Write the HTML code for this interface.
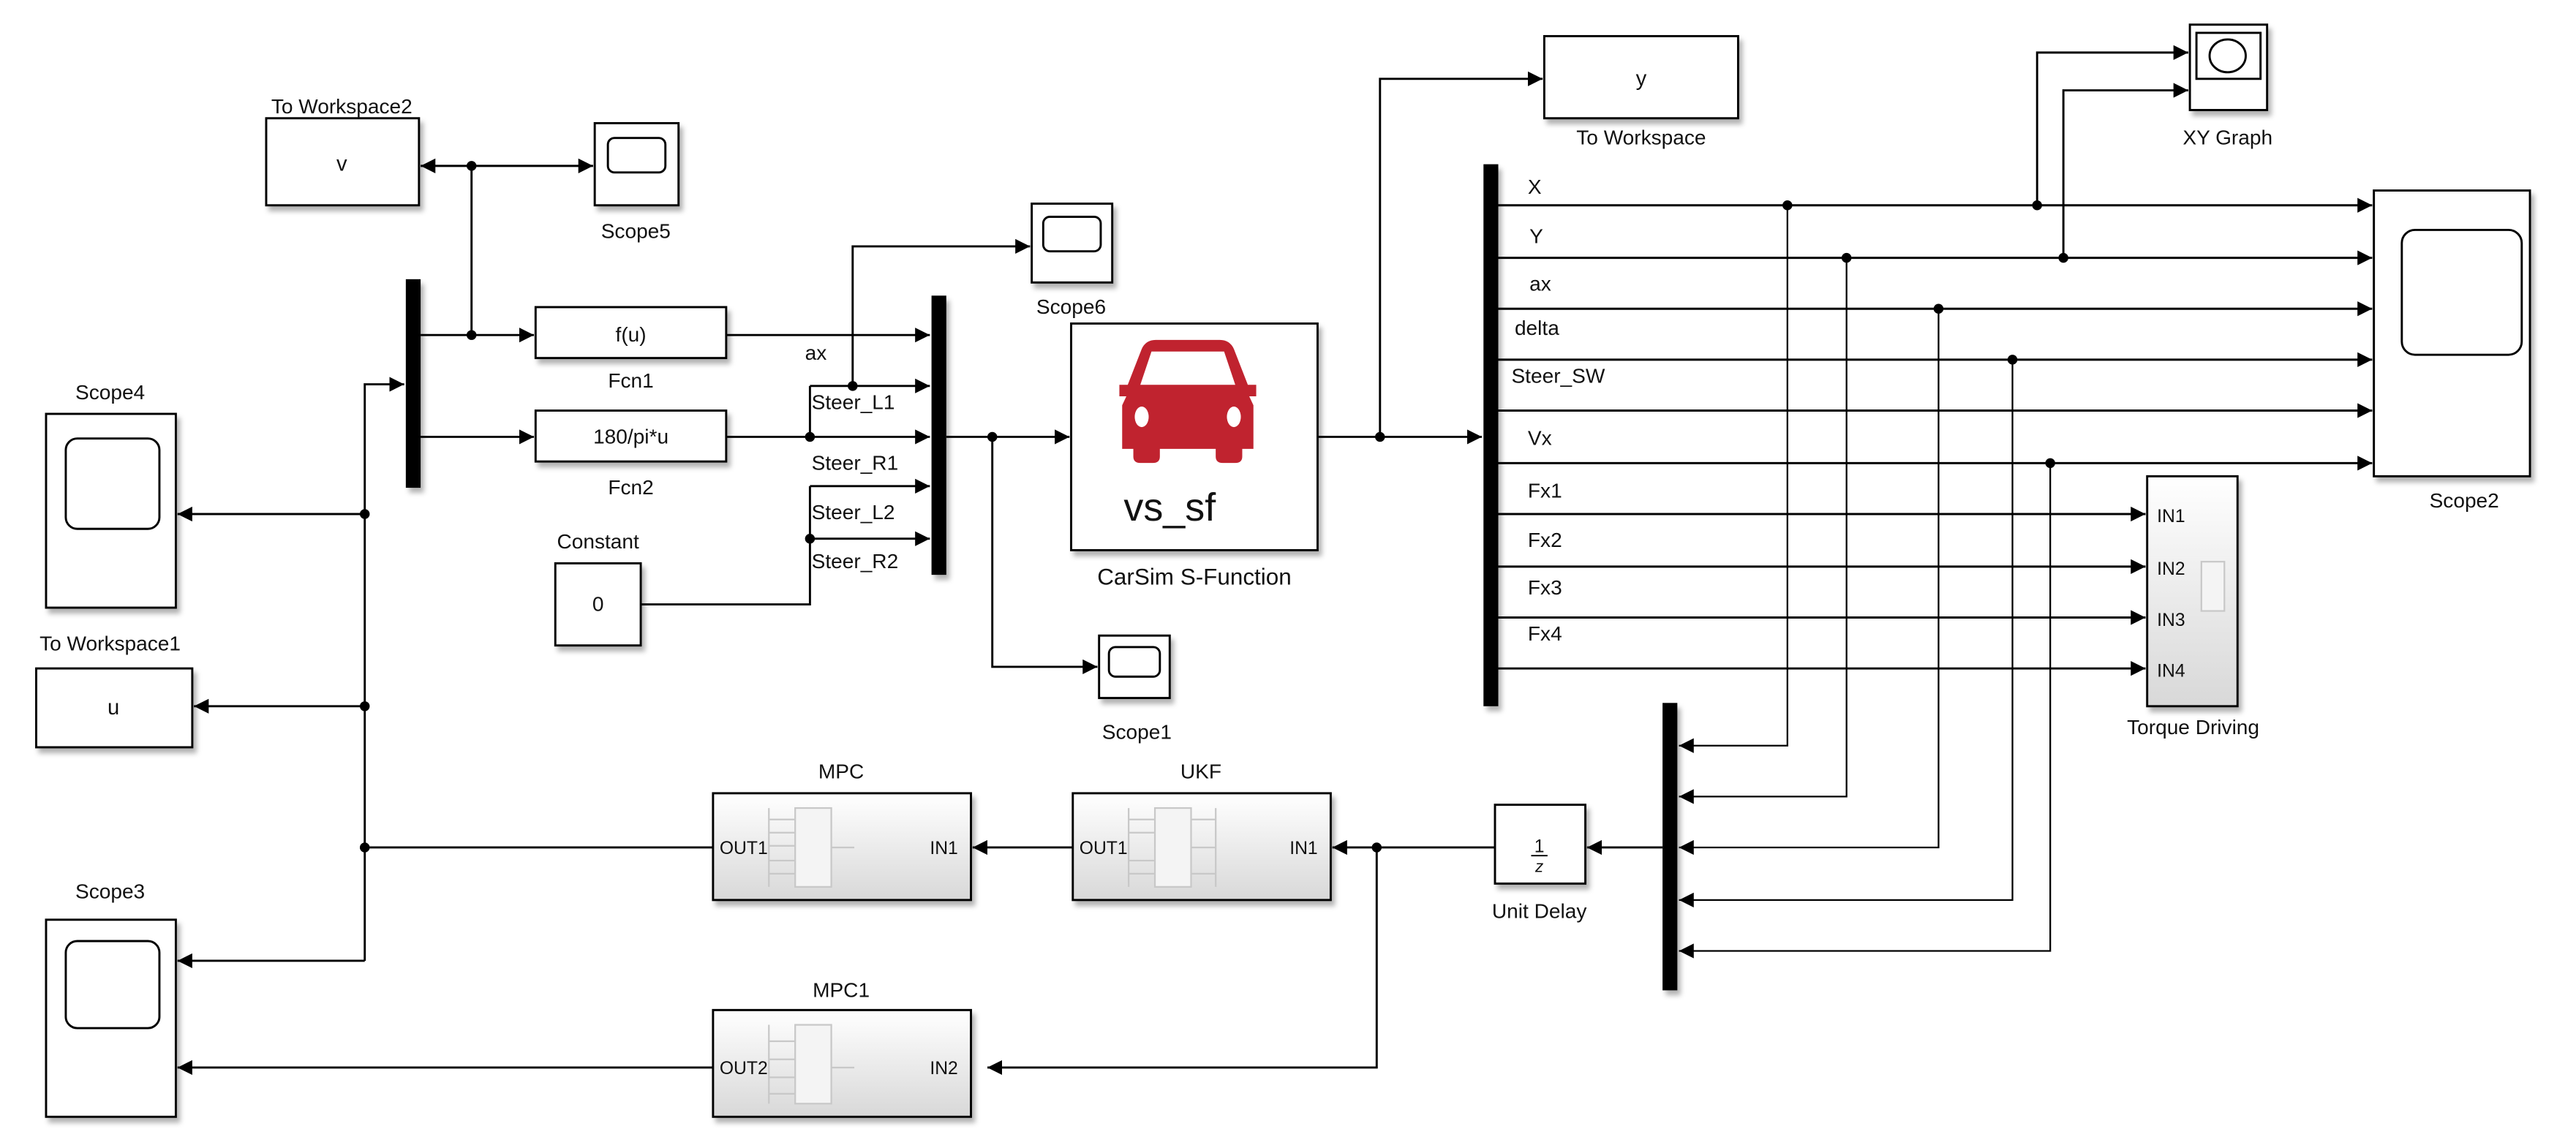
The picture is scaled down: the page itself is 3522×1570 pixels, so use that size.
<!DOCTYPE html>
<html><head><meta charset="utf-8"><style>
html,body{margin:0;padding:0;background:#fff;}
svg{display:block;}
text{font-family:"Liberation Sans",Arial,sans-serif;fill:#111;}
</style></head><body>
<svg width="3522" height="1570" viewBox="0 0 1568 699" xmlns="http://www.w3.org/2000/svg">
<defs>
<marker id="a" viewBox="0 0 10 10" refX="10" refY="5" markerWidth="9" markerHeight="9" markerUnits="userSpaceOnUse" orient="auto"><path d="M0,0L10,5L0,10z" fill="#000"/></marker>
<linearGradient id="g" x1="0" y1="0" x2="0" y2="1"><stop offset="0" stop-color="#ffffff"/><stop offset="1" stop-color="#d8d8d8"/></linearGradient>
<filter id="sh" x="-10%" y="-10%" width="130%" height="130%"><feDropShadow dx="2" dy="3" stdDeviation="1.5" flood-color="#000" flood-opacity="0.3"/></filter>
</defs>
<g fill="none" stroke="#000" stroke-width="1.3">
<path d="M287 101H256" marker-end="url(#a)"/>
<path d="M287 101H361" marker-end="url(#a)"/>
<path d="M287 101V204"/>
<path d="M256 204H325" marker-end="url(#a)"/>
<path d="M256 266H325" marker-end="url(#a)"/>
<path d="M222 585V234H246" marker-end="url(#a)"/>
<path d="M442 204H566" marker-end="url(#a)"/>
<path d="M519 235V150H627" marker-end="url(#a)"/>
<path d="M493 235H566" marker-end="url(#a)"/>
<path d="M442 266H566" marker-end="url(#a)"/>
<path d="M493 266V235"/>
<path d="M493 296H566" marker-end="url(#a)"/>
<path d="M493 328H566" marker-end="url(#a)"/>
<path d="M390 368H493V296"/>
<path d="M576 266H651" marker-end="url(#a)"/>
<path d="M604 266V406H668" marker-end="url(#a)"/>
<path d="M802 266H902" marker-end="url(#a)"/>
<path d="M840 266V48H939" marker-end="url(#a)"/>
<path d="M912 125H1444" marker-end="url(#a)"/>
<path d="M912 157H1444" marker-end="url(#a)"/>
<path d="M912 188H1444" marker-end="url(#a)"/>
<path d="M912 219H1444" marker-end="url(#a)"/>
<path d="M912 250H1444" marker-end="url(#a)"/>
<path d="M912 282H1444" marker-end="url(#a)"/>
<path d="M912 313H1306" marker-end="url(#a)"/>
<path d="M912 345H1306" marker-end="url(#a)"/>
<path d="M912 376H1306" marker-end="url(#a)"/>
<path d="M912 407H1306" marker-end="url(#a)"/>
<path d="M1240 125V32H1332" marker-end="url(#a)"/>
<path d="M1256 157V55H1332" marker-end="url(#a)"/>
<path d="M1088 125V454H1022" marker-end="url(#a)" stroke-width="1"/>
<path d="M1124 157V485H1022" marker-end="url(#a)" stroke-width="1"/>
<path d="M1180 188V516H1022" marker-end="url(#a)" stroke-width="1"/>
<path d="M1225 219V548H1022" marker-end="url(#a)" stroke-width="1"/>
<path d="M1248 282V579H1022" marker-end="url(#a)" stroke-width="1"/>
<path d="M1012 516H966" marker-end="url(#a)"/>
<path d="M910 516H811" marker-end="url(#a)"/>
<path d="M838 516V650H601" marker-end="url(#a)"/>
<path d="M653 516H592" marker-end="url(#a)"/>
<path d="M434 516H222"/>
<path d="M434 650H108" marker-end="url(#a)"/>
<path d="M222 313H108" marker-end="url(#a)"/>
<path d="M222 430H118" marker-end="url(#a)"/>
<path d="M222 585H108" marker-end="url(#a)"/>
</g>
<g fill="#000">
<circle cx="287" cy="101" r="3"/><circle cx="287" cy="204" r="3"/>
<circle cx="519" cy="235" r="3"/><circle cx="493" cy="266" r="3"/><circle cx="493" cy="328" r="3"/>
<circle cx="604" cy="266" r="3"/><circle cx="840" cy="266" r="3"/>
<circle cx="1088" cy="125" r="3"/><circle cx="1240" cy="125" r="3"/>
<circle cx="1124" cy="157" r="3"/><circle cx="1256" cy="157" r="3"/>
<circle cx="1180" cy="188" r="3"/><circle cx="1225" cy="219" r="3"/><circle cx="1248" cy="282" r="3"/>
<circle cx="838" cy="516" r="3"/>
<circle cx="222" cy="313" r="3"/><circle cx="222" cy="430" r="3"/><circle cx="222" cy="516" r="3"/>
</g>
<g fill="#000" filter="url(#sh)">
<rect x="247" y="170" width="9" height="127"/>
<rect x="567" y="180" width="9" height="170"/>
<rect x="903" y="100" width="9" height="330"/>
<rect x="1012" y="428" width="9" height="175"/>
</g>
<g fill="#fff" stroke="#000" stroke-width="1.3" filter="url(#sh)">
<rect x="162" y="72" width="93" height="53"/>
<rect x="362" y="75" width="51" height="50"/>
<rect x="326" y="187" width="116" height="31"/>
<rect x="326" y="250" width="116" height="31"/>
<rect x="338" y="343" width="52" height="50"/>
<rect x="628" y="124" width="49" height="48"/>
<rect x="669" y="387" width="43" height="38"/>
<rect x="652" y="197" width="150" height="138"/>
<rect x="940" y="22" width="118" height="50"/>
<rect x="1333" y="15" width="47" height="52"/>
<rect x="1445" y="116" width="95" height="174"/>
<rect x="910" y="490" width="55" height="48"/>
<rect x="28" y="252" width="79" height="118"/>
<rect x="22" y="407" width="95" height="48"/>
<rect x="28" y="560" width="79" height="120"/>
</g>
<g fill="url(#g)" stroke="#000" stroke-width="1.3" filter="url(#sh)">
<rect x="1307" y="290" width="55" height="140"/>
<rect x="434" y="483" width="157" height="65"/>
<rect x="653" y="483" width="157" height="65"/>
<rect x="434" y="615" width="157" height="65"/>
</g>
<g fill="#fff" stroke="#000" stroke-width="1.3">
<rect x="370" y="84" width="35" height="21" rx="4"/>
<rect x="635" y="132" width="35" height="21" rx="4"/>
<rect x="675" y="394" width="31" height="18" rx="4"/>
<rect x="40" y="267" width="57" height="55" rx="7"/>
<rect x="40" y="573" width="57" height="53" rx="7"/>
<rect x="1462" y="140" width="73" height="76" rx="8"/>
<rect x="1337" y="20" width="39" height="28"/>
<ellipse cx="1356" cy="34" rx="11" ry="10"/>
</g>
<g fill="none" stroke="#c8c8c8" stroke-width="1">
<rect x="484" y="492" width="22" height="48" fill="#f4f4f4"/><path d="M468 492V540M468 499H484M468 507H484M468 515H484M468 524H484M468 532H484M506 516H520"/>
<rect x="703" y="492" width="22" height="48" fill="#f4f4f4"/><path d="M687 492V540M687 499H703M687 507H703M687 524H703M687 532H703M725 499H740M725 516H740M725 532H740M740 492V540"/>
<rect x="484" y="624" width="22" height="48" fill="#f4f4f4"/><path d="M468 624V672M468 634H484M468 645H484M468 656H484M468 666H484M506 650H520"/>
<rect x="1340" y="342" width="14" height="30" fill="#f4f4f4"/>
</g>
<g transform="translate(723,207) scale(0.85,0.78) translate(-723,-205)">
<path fill="#c0232f" d="M690 212 Q693 205 700 205 H746 Q753 205 756 212 L766 240 H772 V249 H767 L770 256 V290 H762 V296 Q762 301 757 301 H748 Q743 301 743 296 V290 H703 V296 Q703 301 698 301 H689 Q684 301 684 296 V290 H676 V256 L679 249 H674 V240 H680 Z"/>
<path fill="#fff" d="M697 214 H749 L757 240 H689 Z"/>
<ellipse fill="#fff" cx="690" cy="265" rx="5" ry="8"/><ellipse fill="#fff" cx="756" cy="265" rx="5" ry="8"/>
</g>
<text x="712" y="317" font-size="24" text-anchor="middle" fill="#000">vs_sf</text>
<g font-size="12.5" text-anchor="middle">
<text x="208" y="69">To Workspace2</text>
<text x="208" y="104" font-size="13">v</text>
<text x="387" y="145">Scope5</text>
<text x="384" y="208">f(u)</text>
<text x="384" y="236">Fcn1</text>
<text x="384" y="270">180/pi*u</text>
<text x="384" y="301">Fcn2</text>
<text x="364" y="334">Constant</text>
<text x="364" y="372">0</text>
<text x="652" y="191">Scope6</text>
<text x="692" y="450">Scope1</text>
<text x="727" y="356" font-size="14">CarSim S-Function</text>
<text x="999" y="52" font-size="13">y</text>
<text x="999" y="88">To Workspace</text>
<text x="1356" y="88">XY Graph</text>
<text x="1500" y="309">Scope2</text>
<text x="1335" y="447">Torque Driving</text>
<text x="937" y="519" font-size="11">1</text>
<path d="M932 521H942" stroke="#000" stroke-width="0.8"/>
<text x="937" y="531" font-size="10" font-style="italic">z</text>
<text x="937" y="559">Unit Delay</text>
<text x="512" y="474">MPC</text>
<text x="731" y="474">UKF</text>
<text x="512" y="607">MPC1</text>
<text x="67" y="243">Scope4</text>
<text x="67" y="396">To Workspace1</text>
<text x="69" y="435" font-size="13">u</text>
<text x="67" y="547">Scope3</text>
</g>
<g font-size="12.5">
<text x="490" y="219">ax</text>
<text x="494" y="249">Steer_L1</text>
<text x="494" y="286">Steer_R1</text>
<text x="494" y="316">Steer_L2</text>
<text x="494" y="346">Steer_R2</text>
<text x="930" y="118">X</text>
<text x="931" y="148">Y</text>
<text x="931" y="177">ax</text>
<text x="922" y="204">delta</text>
<text x="920" y="233">Steer_SW</text>
<text x="930" y="271">Vx</text>
<text x="930" y="303">Fx1</text>
<text x="930" y="333">Fx2</text>
<text x="930" y="362">Fx3</text>
<text x="930" y="390">Fx4</text>
</g>
<g font-size="11">
<text x="1313" y="318">IN1</text><text x="1313" y="350">IN2</text><text x="1313" y="381">IN3</text><text x="1313" y="412">IN4</text>
<text x="438" y="520">OUT1</text><text x="566" y="520">IN1</text>
<text x="657" y="520">OUT1</text><text x="785" y="520">IN1</text>
<text x="438" y="654">OUT2</text><text x="566" y="654">IN2</text>
</g>
</svg>
</body></html>
